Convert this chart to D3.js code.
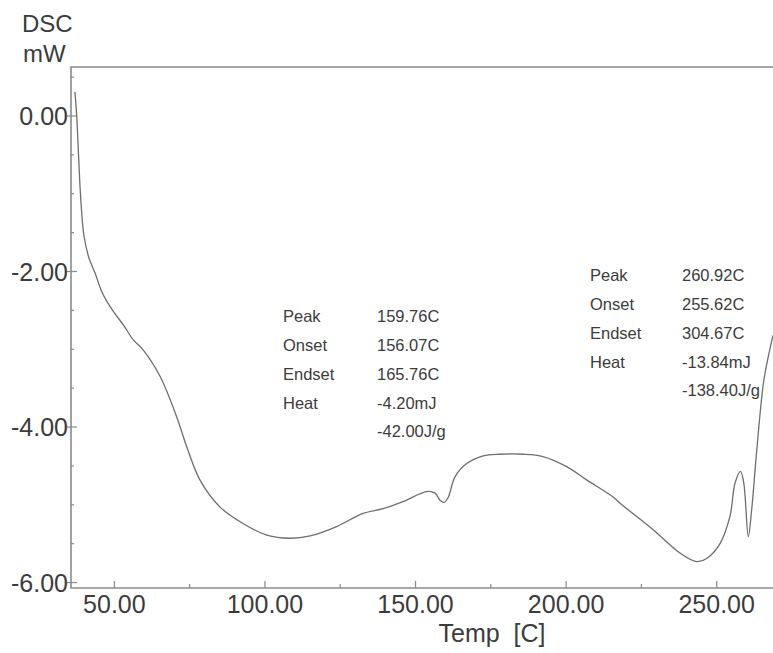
<!DOCTYPE html>
<html>
<head>
<meta charset="utf-8">
<script src="https://cdn.jsdelivr.net/npm/d3@7"></script>
<style>
  body { margin: 0; background: #ffffff; }
  svg { display: block; font-family: "Liberation Sans", Arial, sans-serif; }
</style>
</head>
<body>
<div id="dsc_plot"></div>
<script>
//
// DSC thermogram
//

// temperature (C)
var temp = [36.9, 37.5, 38.1, 38.8, 39.9, 41.6, 43.6, 45.6, 47.6, 50.2, 53.2, 56.3, 59.6,
            65.2, 70.7, 74.0, 78.4, 85.1, 92.7, 100.6, 108.3, 115.0, 123.8, 132.6, 139.2,
            145.8, 153.7, 156.5, 158.1, 159.4, 160.8, 163.1, 167.0, 172.5, 178.0, 185.7,
            192.3, 200.2, 206.8, 215.6, 217.9, 228.9, 237.8, 243.3, 246.7, 251.1, 254.4,
            256.1, 257.9, 259.0, 260.5, 261.6, 263.3, 265.5, 267.1, 268.7];
// heat flow (mW)
var heat = [0.31, 0.00, -0.50, -1.04, -1.54, -1.83, -2.02, -2.24, -2.39, -2.54, -2.70, -2.88, -3.01,
            -3.35, -3.87, -4.25, -4.68, -5.03, -5.24, -5.39, -5.43, -5.40, -5.28, -5.11, -5.05,
            -4.96, -4.83, -4.85, -4.94, -4.97, -4.91, -4.64, -4.47, -4.37, -4.35, -4.35,
            -4.38, -4.51, -4.68, -4.90, -4.98, -5.32, -5.62, -5.73, -5.69, -5.50, -5.15,
            -4.72, -4.57, -4.72, -5.41, -5.07, -4.30, -3.44, -3.10, -2.82];

var x_ticks = [50, 100, 150, 200, 250];
var x_minor = [75, 125, 175, 225];
var y_ticks = [0, -2, -4, -6];
var y_minor = [0.5, -0.5, -1, -1.5, -2.5, -3, -3.5, -4.5, -5, -5.5];

// peak analysis boxes
var peak1_labels = ["Peak", "Onset", "Endset", "Heat", ""];
var peak1_values = ["159.76C", "156.07C", "165.76C", "-4.20mJ", "-42.00J/g"];
var peak2_labels = ["Peak", "Onset", "Endset", "Heat", ""];
var peak2_values = ["260.92C", "255.62C", "304.67C", "-13.84mJ", "-138.40J/g"];

// plain hyphen for negatives, like the instrument printout
function fmt(v) {
  return v.toFixed(2);
}

function DscChart() {
  var total_width = 773,
      total_height = 653;

  var left = 71, right = 773, top = 67, bottom = 588;
  var ink = "#3c3c3c", frame = "#8a8a8a";

  function my(selection) {
    var svg = selection.append("svg")
        .attr("width", total_width)
        .attr("height", total_height);

    var x = d3.scaleLinear()
        .domain([35.6, 268.7])
        .range([left, right]);

    var y = d3.scaleLinear()
        .domain([-6.07, 0.63])
        .range([bottom, top]);

    // frame: top, left, bottom
    svg.append("path")
        .attr("d", "M" + right + "," + top + "H" + left + "V" + bottom + "H" + right)
        .attr("fill", "none")
        .attr("stroke", frame)
        .attr("stroke-width", 1.6);

    // y ticks
    svg.append("g").selectAll("line")
        .data(y_ticks)
        .enter().append("line")
          .attr("x1", left - 4).attr("x2", left + 6)
          .attr("y1", d => y(d)).attr("y2", d => y(d))
          .attr("stroke", frame).attr("stroke-width", 1.2);

    svg.append("g").selectAll("line")
        .data(y_minor)
        .enter().append("line")
          .attr("x1", left).attr("x2", left + 3)
          .attr("y1", d => y(d)).attr("y2", d => y(d))
          .attr("stroke", frame).attr("stroke-width", 1.2);

    svg.append("g").selectAll("text")
        .data(y_ticks)
        .enter().append("text")
          .attr("x", left - 3)
          .attr("y", d => y(d))
          .attr("dy", "0.36em")
          .attr("text-anchor", "end")
          .attr("font-size", 25)
          .attr("fill", ink)
          .text(d => fmt(d));

    // x ticks
    svg.append("g").selectAll("line")
        .data(x_ticks)
        .enter().append("line")
          .attr("x1", d => x(d)).attr("x2", d => x(d))
          .attr("y1", bottom).attr("y2", bottom - 7)
          .attr("stroke", frame).attr("stroke-width", 1.2);

    svg.append("g").selectAll("line")
        .data(x_minor)
        .enter().append("line")
          .attr("x1", d => x(d)).attr("x2", d => x(d))
          .attr("y1", bottom).attr("y2", bottom - 4)
          .attr("stroke", frame).attr("stroke-width", 1.2);

    svg.append("g").selectAll("text")
        .data(x_ticks)
        .enter().append("text")
          .attr("x", d => x(d))
          .attr("y", bottom + 25)
          .attr("text-anchor", "middle")
          .attr("font-size", 25)
          .attr("fill", ink)
          .text(d => fmt(d));

    // axis titles
    svg.append("text")
        .attr("x", 22).attr("y", 32)
        .attr("font-size", 24)
        .attr("fill", ink)
        .text("DSC");
    svg.append("text")
        .attr("x", 23).attr("y", 62)
        .attr("font-size", 24)
        .attr("fill", ink)
        .text("mW");
    svg.append("text")
        .attr("x", 492).attr("y", 642)
        .attr("text-anchor", "middle")
        .attr("font-size", 25)
        .attr("fill", ink)
        .style("white-space", "pre")
        .text("Temp  [C]");

    // the trace
    var points = temp.map((t, i) => ({t: t, q: heat[i]}));
    svg.append("path")
        .datum(points)
        .attr("fill", "none")
        .attr("stroke", "#6e6e6e")
        .attr("stroke-width", 1.3)
        .attr("d", d3.line()
          .x(d => x(d.t))
          .y(d => y(d.q))
          .curve(d3.curveCatmullRom.alpha(0.5))
        );

    // peak analysis text
    function peak_box(labels, values, x0, x1, rows) {
      var g = svg.append("g")
          .attr("font-size", 16.5)
          .attr("fill", ink);
      labels.forEach(function(l, i) {
        g.append("text").attr("x", x0).attr("y", rows[i]).text(l);
        g.append("text").attr("x", x1).attr("y", rows[i]).text(values[i]);
      });
    }
    peak_box(peak1_labels, peak1_values, 283, 377, [322, 351, 380, 409, 437]);
    peak_box(peak2_labels, peak2_values, 590, 682, [281, 310, 339, 368, 396]);
  }

  return my;
}

var dsc_plot = d3.select("#dsc_plot");
var chart = DscChart();
chart(dsc_plot);
</script>
</body>
</html>
